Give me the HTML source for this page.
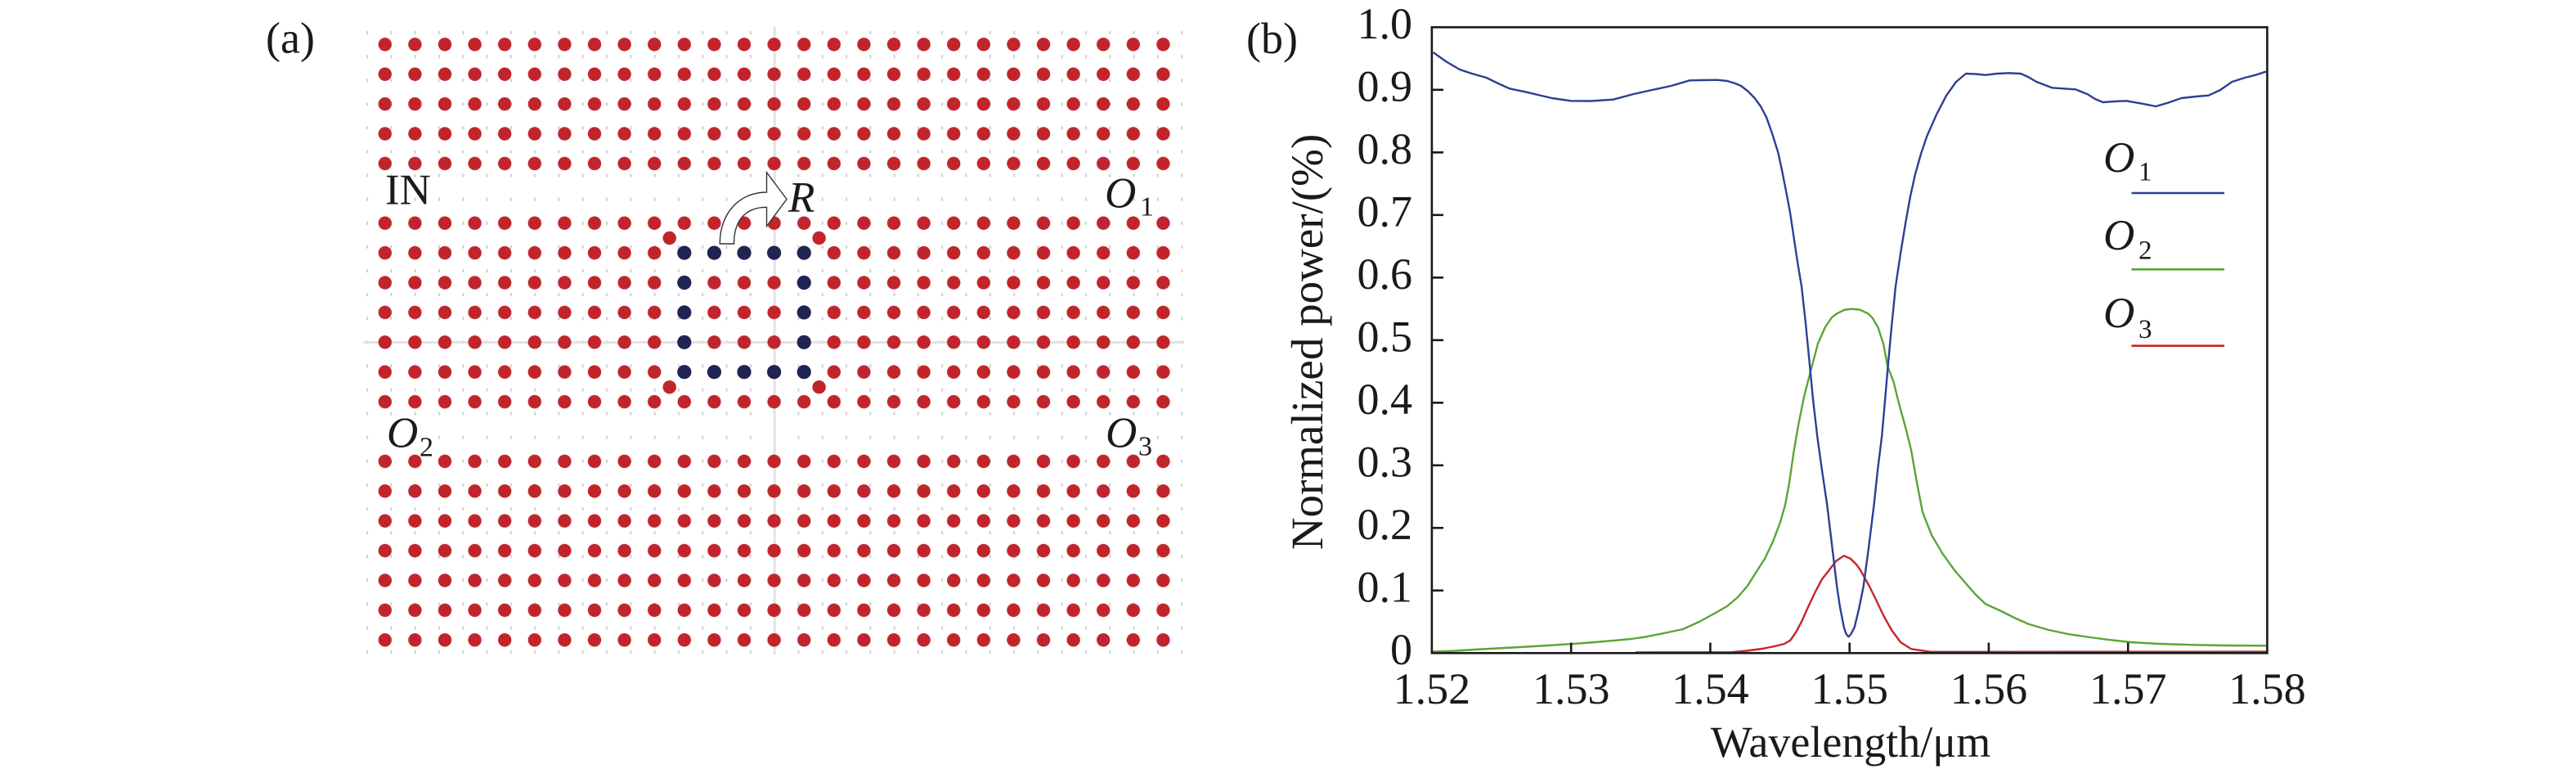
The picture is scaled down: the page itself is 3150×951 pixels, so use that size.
<!DOCTYPE html>
<html>
<head>
<meta charset="utf-8">
<style>
html,body{margin:0;padding:0;background:#fff;}
svg{display:block;}
text{font-family:"Liberation Serif","Times New Roman",serif;fill:#1a1a1a;}
</style>
</head>
<body>
<svg width="3150" height="951" viewBox="0 0 3150 951" xmlns="http://www.w3.org/2000/svg">
<defs>
  <pattern id="marks" patternUnits="userSpaceOnUse" x="434.35" y="25.45" width="29.3" height="29.1">
    <rect x="13.65" y="12.55" width="2" height="4" fill="#cdcdcd"/>
  </pattern>
  <pattern id="dots" patternUnits="userSpaceOnUse" x="452.5" y="36.1" width="36.6" height="36.4">
    <circle cx="18.3" cy="18.2" r="8.2" fill="#c1252b"/>
  </pattern>
</defs>

<!-- ===== Panel (a) ===== -->
<text x="325" y="64.5" font-size="54">(a)</text>

<rect x="434.35" y="25.45" width="1025.5" height="785.7" fill="url(#marks)"/>
<line x1="947.2" y1="33" x2="947.2" y2="800" stroke="#e3e3e3" stroke-width="3"/>
<line x1="444" y1="418.5" x2="1448" y2="418.5" stroke="#e3e3e3" stroke-width="3"/>

<rect x="452.5" y="36.1" width="988.2" height="182" fill="url(#dots)"/>
<rect x="452.5" y="254.5" width="988.2" height="254.8" fill="url(#dots)"/>
<rect x="452.5" y="545.7" width="988.2" height="254.8" fill="url(#dots)"/>

<!-- ring (navy) -->
<g fill="#1f2452">
  <circle cx="836.8" cy="309.1" r="8.6"/><circle cx="873.4" cy="309.1" r="8.6"/><circle cx="910.0" cy="309.1" r="8.6"/><circle cx="946.6" cy="309.1" r="8.6"/><circle cx="983.2" cy="309.1" r="8.6"/>
  <circle cx="836.8" cy="345.5" r="8.6"/><circle cx="983.2" cy="345.5" r="8.6"/>
  <circle cx="836.8" cy="381.9" r="8.6"/><circle cx="983.2" cy="381.9" r="8.6"/>
  <circle cx="836.8" cy="418.3" r="8.6"/><circle cx="983.2" cy="418.3" r="8.6"/>
  <circle cx="836.8" cy="454.7" r="8.6"/><circle cx="873.4" cy="454.7" r="8.6"/><circle cx="910.0" cy="454.7" r="8.6"/><circle cx="946.6" cy="454.7" r="8.6"/><circle cx="983.2" cy="454.7" r="8.6"/>
</g>
<g fill="#c1252b">
  <circle cx="818.7" cy="291" r="8.2"/><circle cx="1001.6" cy="291" r="8.2"/>
  <circle cx="818.7" cy="473.2" r="8.2"/><circle cx="1001.6" cy="473.2" r="8.2"/>
</g>

<!-- curved arrow -->
<path d="M880.3,298 C880,262 903,235 937.5,235 L937.5,210.7 L962,243.5 L937.5,276.5 L937.5,253.3 C913,253.3 897.5,268 897.5,298 Z" fill="#fff" stroke="#333" stroke-width="1.4" stroke-linejoin="miter"/>

<text x="471" y="249.5" font-size="53">IN</text>
<text x="964" y="258.5" font-size="53" font-style="italic">R</text>
<text x="1351" y="253.3" font-size="53" font-style="italic">O</text>
<text x="1394" y="263.3" font-size="34">1</text>
<text x="473" y="546.7" font-size="53" font-style="italic">O</text>
<text x="513" y="557.3" font-size="34">2</text>
<text x="1352" y="546.7" font-size="53" font-style="italic">O</text>
<text x="1392" y="556.7" font-size="34">3</text>

<!-- ===== Panel (b) ===== -->
<text x="1524" y="65" font-size="54">(b)</text>

<!-- curves -->
<polyline fill="none" stroke="#5aa535" stroke-width="2.4" stroke-linejoin="round" points="1752,796.5 1780,795.5 1812,793.5 1850,791.5 1884,789.5 1920,787.3 1950,785 1970,783.3 1995,781 2013,778.3 2035,774 2058,769 2078,760 2098,749 2112,741 2125,730 2137,716 2147,700 2158,683 2168,662 2177,638 2183,617 2188,590 2193.5,552 2199,520 2206,485 2215,450 2223,420 2231.8,400 2240,388 2246.2,383.3 2256,378.5 2265,377.7 2274,378.5 2284.4,383.3 2290,389 2296.4,400 2303,420 2308.4,448.3 2315.6,467 2322,493 2330,522 2337,550 2344,590 2351,626 2362,654 2375.4,676.7 2390,697 2404,713.3 2416,727 2428,738.3 2447,747 2465,756 2481,763 2505,770 2528.5,775 2552,778.5 2576,781.7 2605,785 2640,787 2682,788.3 2720,789 2771,789.3"/>

<polyline fill="none" stroke="#c4262b" stroke-width="2.4" stroke-linejoin="round" points="2000,797.4 2117,797.2 2136,795.5 2155,793 2170,790 2182,787 2189,783 2196,773 2203,760 2211,742 2220,723 2228,708 2236.6,697 2245,686 2254.8,679.3 2263,683 2270,690 2275,697 2285,715 2294,733 2303,752 2313,770 2324,785 2337,793.3 2361,796.8 2771,796.6"/>

<polyline fill="none" stroke="#2e3e94" stroke-width="2.4" stroke-linejoin="round" points="1752.6,64 1768,75 1785,85 1800,90 1817.6,95 1832,102 1846,108.3 1867,112.7 1885,117 1898,120 1921,123.3 1945,123.5 1972.6,121.7 1997.5,115 2020,110 2043.4,105 2066,98.3 2080,98 2100,97.7 2112,99 2122,102 2129,105 2138,112 2145.7,120 2153,130 2160,143.3 2167,163 2174.4,186.7 2179,208 2184,233.3 2189,260 2193.5,290 2198,320 2203,350 2208,395 2212.7,443.3 2217,488 2222.2,533.3 2228,575 2234.2,616.7 2240,665 2246.2,716.7 2250,742 2254.8,766.7 2257.5,775 2260.5,778.3 2263.5,775 2267.7,766.7 2273,745 2278.7,716.7 2285,670 2291.6,616.7 2296,575 2301.2,533.3 2305,490 2308.4,450 2313,400 2318,350 2324,310 2330,273.3 2336,240 2341.9,213.3 2349,188 2356.2,166.7 2368,140 2380.1,116.7 2392,100 2404,90 2416,90.5 2428,91.7 2442,90 2456.7,89.3 2471,90 2480,94 2490.2,100 2509.3,107.3 2538,109.3 2552.4,115 2562,121 2571.5,125 2585,124 2600.2,123.3 2619.4,126.7 2636.1,130 2650,126 2667.2,120 2685,118 2700.7,116.7 2715,110 2729.4,100 2745,95 2758.1,91.7 2771,87.5"/>

<!-- axes frame -->
<rect x="1750.9" y="33.3" width="1021.5" height="765" fill="none" stroke="#1a1a1a" stroke-width="2.6"/>

<!-- y ticks -->
<g stroke="#1a1a1a" stroke-width="2.6">
  <line x1="1750.9" y1="721.8" x2="1765" y2="721.8"/>
  <line x1="1750.9" y1="645.3" x2="1765" y2="645.3"/>
  <line x1="1750.9" y1="568.8" x2="1765" y2="568.8"/>
  <line x1="1750.9" y1="492.3" x2="1765" y2="492.3"/>
  <line x1="1750.9" y1="415.8" x2="1765" y2="415.8"/>
  <line x1="1750.9" y1="339.3" x2="1765" y2="339.3"/>
  <line x1="1750.9" y1="262.8" x2="1765" y2="262.8"/>
  <line x1="1750.9" y1="186.3" x2="1765" y2="186.3"/>
  <line x1="1750.9" y1="109.8" x2="1765" y2="109.8"/>
</g>
<!-- x ticks -->
<g stroke="#1a1a1a" stroke-width="2.6">
  <line x1="1921.2" y1="798.3" x2="1921.2" y2="785.5"/>
  <line x1="2091.4" y1="798.3" x2="2091.4" y2="785.5"/>
  <line x1="2261.7" y1="798.3" x2="2261.7" y2="785.5"/>
  <line x1="2431.9" y1="798.3" x2="2431.9" y2="785.5"/>
  <line x1="2602.2" y1="798.3" x2="2602.2" y2="785.5"/>
</g>

<!-- y tick labels -->
<g font-size="54" text-anchor="end">
  <text x="1727" y="811.8">0</text>
  <text x="1727" y="735.3">0.1</text>
  <text x="1727" y="658.8">0.2</text>
  <text x="1727" y="582.3">0.3</text>
  <text x="1727" y="505.8">0.4</text>
  <text x="1727" y="429.3">0.5</text>
  <text x="1727" y="352.8">0.6</text>
  <text x="1727" y="276.3">0.7</text>
  <text x="1727" y="199.8">0.8</text>
  <text x="1727" y="123.3">0.9</text>
  <text x="1727" y="46.8">1.0</text>
</g>

<!-- x tick labels -->
<g font-size="54" text-anchor="middle">
  <text x="1750.9" y="860">1.52</text>
  <text x="1921.2" y="860">1.53</text>
  <text x="2091.4" y="860">1.54</text>
  <text x="2261.7" y="860">1.55</text>
  <text x="2431.9" y="860">1.56</text>
  <text x="2602.2" y="860">1.57</text>
  <text x="2772.4" y="860">1.58</text>
</g>

<!-- axis titles -->
<text x="2263" y="925" font-size="54" text-anchor="middle">Wavelength/μm</text>
<text transform="translate(1617,418) rotate(-90)" font-size="55" text-anchor="middle">Normalized power/(%)</text>

<!-- legend -->
<text x="2572" y="210" font-size="53" font-style="italic">O</text>
<text x="2615" y="220.7" font-size="33">1</text>
<line x1="2606.5" y1="236" x2="2720" y2="236" stroke="#2e3e94" stroke-width="2.6"/>
<text x="2572" y="305" font-size="53" font-style="italic">O</text>
<text x="2615" y="316.7" font-size="33">2</text>
<line x1="2606.5" y1="329.3" x2="2720" y2="329.3" stroke="#5aa535" stroke-width="2.6"/>
<text x="2572" y="400" font-size="53" font-style="italic">O</text>
<text x="2615" y="413" font-size="33">3</text>
<line x1="2606.5" y1="422.7" x2="2720" y2="422.7" stroke="#c4262b" stroke-width="2.6"/>
</svg>
</body>
</html>
